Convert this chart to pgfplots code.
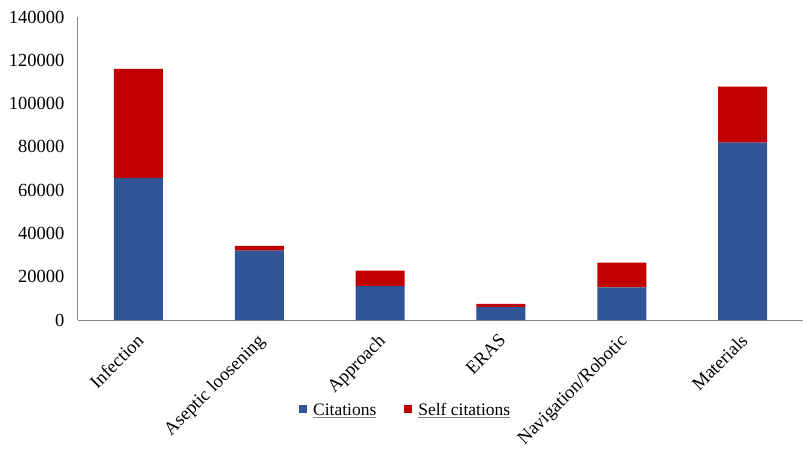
\documentclass[border=0pt]{standalone}
\usepackage{fontspec}
\setmainfont{Liberation Serif}
\usepackage{pgfplots}
\pgfplotsset{compat=1.18}
\definecolor{cblue}{HTML}{2F5597}
\definecolor{cred}{HTML}{C00000}
\definecolor{axgray}{HTML}{868686}
\DeclareRobustCommand\ul[1]{\leavevmode\vtop{\hbox{#1}\kern1.8pt{\color{axgray}\hrule height 0.9pt}}}
\begin{document}
\begin{tikzpicture}
\useasboundingbox (-78pt,-141pt) rectangle (732pt,320pt);
\begin{axis}[
  at={(0pt,0pt)}, anchor=south west,
  scale only axis, width=725pt, height=303pt,
  ybar stacked, bar width=49pt,
  xmin=-0.5, xmax=5.5, ymin=0, ymax=140000,
  xtick={0,1,2,3,4,5},
  xticklabels={Infection, Aseptic loosening, Approach, ERAS, Navigation/Robotic, Materials},
  ytick={0,20000,40000,60000,80000,100000,120000,140000},
  axis x line*=bottom, axis y line*=left,
  axis line style={axgray, line width=1pt, -},
  major tick length=0pt,
  scaled y ticks=false,
  /pgf/number format/fixed,
  /pgf/number format/1000 sep={},
  /pgf/number format/assume math mode=true,
  yticklabel style={font=\fontsize{18.5}{22}\selectfont, xshift=-10pt},
  xticklabel style={xshift=-3pt, yshift=-8pt, rotate=45, anchor=north east, font=\fontsize{18.5}{22}\selectfont},
  legend columns=2,
  legend image code/.code={\fill[#1] (0pt,-3.5pt) rectangle (8pt,5pt);},
  legend style={draw=none, at={(0.452,-0.297)}, anchor=center, font=\fontsize{17.5}{21}\selectfont,
    /tikz/every odd column/.append style={column sep=4pt},
    /tikz/every even column/.append style={column sep=26pt}},
]
\addplot[fill=cblue, draw=none] coordinates {(0,65700) (1,32000) (2,15700) (3,5900) (4,15100) (5,81900)};
\addplot[fill=cred, draw=none] coordinates {(0,50300) (1,2300) (2,7100) (3,1500) (4,11400) (5,25900)};
\legend{\ul{Citations}, \ul{Self citations}}
\end{axis}
\end{tikzpicture}
\end{document}
